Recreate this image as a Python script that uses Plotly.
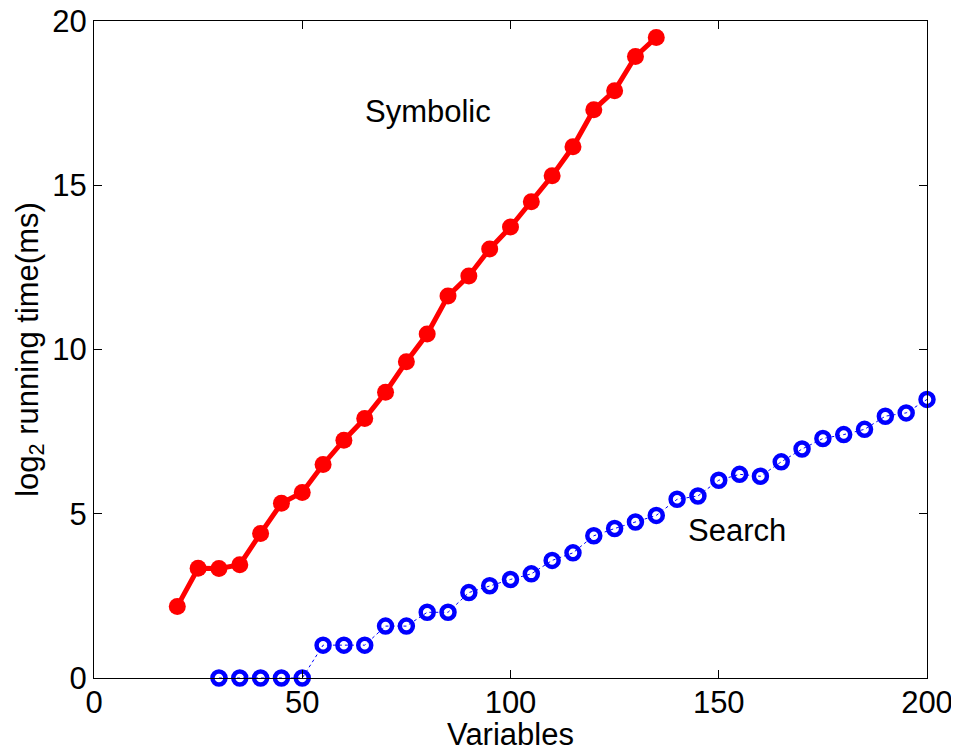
import plotly.graph_objects as go

sym_x = [20, 25, 30, 35, 40, 45, 50, 55, 60, 65, 70, 75, 80, 85, 90, 95, 100, 105, 110, 115, 120, 125, 130, 135]
sym_y = [2.18, 3.34, 3.33, 3.45, 4.4, 5.32, 5.65, 6.5, 7.24, 7.9, 8.7, 9.63, 10.47, 11.63, 12.24, 13.06, 13.73, 14.5, 15.29, 16.17, 17.3, 17.88, 18.92, 19.5]

search_x = [30, 35, 40, 45, 50, 55, 60, 65, 70, 75, 80, 85, 90, 95, 100, 105, 110, 115, 120, 125, 130, 135,
            140, 145, 150, 155, 160, 165, 170, 175, 180, 185, 190, 195, 200]
search_y = [0, 0, 0, 0, 0, 1.0, 1.0, 1.0, 1.58, 1.58, 2.0, 2.0, 2.6, 2.81, 3.0, 3.17, 3.58, 3.81, 4.33, 4.55, 4.75, 4.95,
            5.44, 5.54, 6.02, 6.2, 6.14, 6.58, 6.97, 7.29, 7.41, 7.57, 7.97, 8.07, 8.48]

x_ticks = [0, 50, 100, 150, 200]
y_ticks = [0, 5, 10, 15, 20]

FONT = "Liberation Sans, Arial, sans-serif"
FS = 31

fig = go.Figure()
fig.add_trace(go.Scatter(
    x=search_x, y=search_y, mode="lines+markers",
    line=dict(color="blue", width=1, dash="dot"),
    marker=dict(symbol="circle-open", size=13, color="blue", line=dict(width=4.5, color="blue")),
    cliponaxis=False, showlegend=False))
fig.add_trace(go.Scatter(
    x=sym_x, y=sym_y, mode="lines+markers",
    line=dict(color="red", width=5),
    marker=dict(symbol="circle", size=17, color="red"),
    cliponaxis=False, showlegend=False))

fig.add_annotation(x=80.2, y=17.24, text="Symbolic", showarrow=False,
                   font=dict(family=FONT, size=FS, color="black"))
fig.add_annotation(x=154.3, y=4.5, text="Search", showarrow=False,
                   font=dict(family=FONT, size=FS, color="black"))
fig.add_annotation(x=0.5, y=0, xref="paper", yref="paper", yanchor="middle", yshift=-56,
                   text="Variables", showarrow=False,
                   font=dict(family=FONT, size=FS, color="black"))

axis_common = dict(showline=True, linecolor="black", linewidth=1.2, mirror="ticks",
                   ticks="inside", ticklen=8, tickcolor="black", showgrid=False, zeroline=False,
                   ticklabeloverflow="allow",
                   tickfont=dict(family=FONT, size=FS, color="black"))

fig.update_xaxes(range=[0, 200], tickvals=x_ticks, ticktext=[str(v) for v in x_ticks],
                 ticklabelstandoff=-3, **axis_common)
fig.update_yaxes(range=[0, 20], tickvals=y_ticks, ticktext=[str(v) for v in y_ticks],
                 title=dict(text="log<sub>2</sub> running time(ms)", font=dict(family=FONT, size=FS, color="black"), standoff=4),
                 **axis_common)

fig.update_layout(width=959, height=756, paper_bgcolor="white", plot_bgcolor="white",
                  margin=dict(l=86, r=40, t=13, b=86, autoexpand=False))

fig.write_html("out.html")
